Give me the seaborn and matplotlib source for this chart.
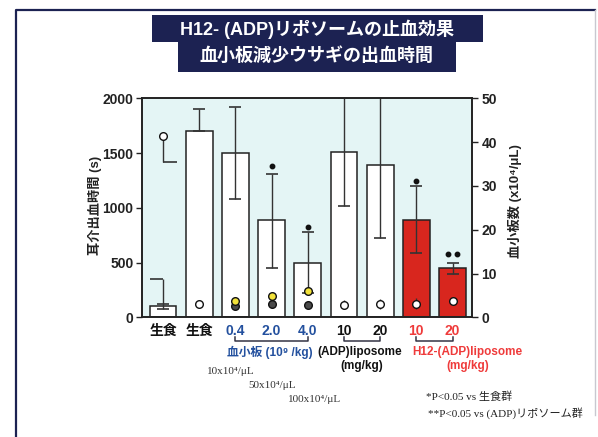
import numpy as np
import pandas as pd
import matplotlib.pyplot as plt
import seaborn as sns
from matplotlib.patches import Rectangle
from matplotlib.lines import Line2D
import matplotlib.transforms as mtransforms

# =========================
# Data
# =========================
GROUPS = ["saline_a", "saline_b", "plt_0.4", "plt_2.0", "plt_4.0",
          "adp_10", "adp_20", "h12_10", "h12_20"]
TICK_LABELS = ["生食", "生食", "0.4", "2.0", "4.0", "10", "20", "10", "20"]

# bleeding time (s), left axis
BLEED_TIME = [100, 1700, 1500, 890, 500, 1510, 1390, 890, 450]
TIME_ERR_LO = [20, 0, 420, 440, 280, 490, 670, 300, 50]
TIME_ERR_HI = [20, 200, 420, 420, 280, 490, 670, 310, 50]
SALINE_A_UPPER = 350          # long one-sided line on the first saline bar

# significance marks (s) and how many dots
SIG_TIME = [np.nan, np.nan, np.nan, 1381, 827, np.nan, np.nan, 1247, 578]
SIG_COUNT = [0, 0, 0, 1, 1, 0, 0, 1, 2]

# platelet count (x10^4/uL), right axis
COUNT_WHITE = [41.5, 3.0, np.nan, np.nan, np.nan, 2.9, 3.0, 3.1, 3.7]
COUNT_WHITE_ERR = [0, 0, 0, 0, 0, 1.1, 1.1, 1.2, 0]
COUNT_WHITE_DOWN = 6.0        # one-sided error of the first saline circle
COUNT_YELLOW = [np.nan, np.nan, 3.8, 4.9, 6.0, np.nan, np.nan, np.nan, np.nan]
COUNT_DARK = [np.nan, np.nan, 2.6, 3.0, 2.8, np.nan, np.nan, np.nan, np.nan]

BAR_COLORS = ["white"] * 7 + ["#d8261e"] * 2
LABEL_COLORS = ["#111111", "#111111", "#23509e", "#23509e", "#23509e",
                "#111111", "#111111", "#ef3b3b", "#ef3b3b"]

W, H = 598, 437
BLUE = "#23509e"
RED = "#ef3b3b"
NAVY = "#1c2252"
INK = "#222222"


def fx(px):
    return px / W


def fy(py):
    return 1 - py / H


plt.rcParams["font.family"] = ["Liberation Sans", "Noto Sans CJK JP", "DejaVu Sans"]
plt.rcParams["axes.unicode_minus"] = False

fig = plt.figure(figsize=(W / 100, H / 100), dpi=100)
fig.patch.set_facecolor("white")

# slide frame
fig.add_artist(Line2D([fx(16), fx(16), fx(595)], [0, fy(10), fy(10)],
                      transform=fig.transFigure, color=NAVY, lw=1.6))
fig.add_artist(Line2D([fx(595), fx(595)], [0.05, fy(10)],
                      transform=fig.transFigure, color="#c8c8d0", lw=1.0))

# title boxes
fig.add_artist(Rectangle((fx(151.7), fy(41.7)), fx(482.7) - fx(151.7), fy(15) - fy(41.7),
                         transform=fig.transFigure, facecolor=NAVY, edgecolor="none"))
fig.add_artist(Rectangle((fx(178), fy(71.7)), fx(456) - fx(178), fy(41.5) - fy(71.7),
                         transform=fig.transFigure, facecolor=NAVY, edgecolor="none"))
fig.text(fx(317), fy(29), "H12- (ADP)リポソームの止血効果", color="white",
         fontsize=13, fontweight="bold", ha="center", va="center")
fig.text(fx(316), fy(56.5), "血小板減少ウサギの出血時間", color="white",
         fontsize=13, fontweight="bold", ha="center", va="center")

# main axes
ax = fig.add_axes([fx(141.7), fy(317.3), fx(471.7) - fx(141.7), fy(98.3) - fy(317.3)])
ax.set_facecolor("#e4f5f5")

df = pd.DataFrame({"group": GROUPS, "time": BLEED_TIME})
sns.barplot(data=df, x="group", y="time", hue="group", order=GROUPS,
            palette=dict(zip(GROUPS, BAR_COLORS)), width=0.74, saturation=1,
            edgecolor=INK, linewidth=1.1, errorbar=None, legend=False, ax=ax)

xs = np.arange(len(GROUPS))
lo = np.array(TIME_ERR_LO, dtype=float)
hi = np.array(TIME_ERR_HI, dtype=float)
ax.errorbar(xs, BLEED_TIME, yerr=[lo, hi], fmt="none",
            ecolor="#333333", elinewidth=1.0, capsize=4.5, capthick=1.2, zorder=3)
# first saline bar: long line with a half cap
ax.vlines(xs[0], BLEED_TIME[0] + hi[0], SALINE_A_UPPER, color="#333333", lw=1.0, zorder=3)
ax.hlines(SALINE_A_UPPER, xs[0] - 0.36, xs[0], color="#333333", lw=1.2, zorder=3)

# significance dots
for x, y, n in zip(xs, SIG_TIME, SIG_COUNT):
    if n == 0:
        continue
    offs = [0.0] if n == 1 else [-0.13, 0.13]
    for o in offs:
        ax.plot(x + o, y, "o", ms=3.2, color="#111111", zorder=4)

ax.set_xlim(-0.59, 8.53)
ax.set_ylim(0, 2000)
ax.set_yticks([0, 500, 1000, 1500, 2000])
ax.set_xticks(xs)
ax.set_xticklabels(TICK_LABELS, fontsize=10, fontweight="bold")
for t, c in zip(ax.get_xticklabels(), LABEL_COLORS):
    t.set_color(c)
ax.set_xlabel("")
ax.set_ylabel("")
ax.tick_params(axis="x", length=0, pad=5)
ax.tick_params(axis="y", direction="out", length=4, width=1.0, labelsize=10, pad=2,
               colors=INK)
for t in ax.get_yticklabels():
    t.set_fontweight("bold")
for s in ax.spines.values():
    s.set_color(INK)
    s.set_linewidth(1.2)

# platelet counts on the right axis
ax2 = ax.twinx()
ax2.set_ylim(0, 50)
ax2.set_yticks(range(0, 51, 10))
ax2.tick_params(axis="y", direction="out", length=4, width=1.0, labelsize=10, pad=3,
                colors=INK)
for t in ax2.get_yticklabels():
    t.set_fontweight("bold")
for s in ax2.spines.values():
    s.set_color(INK)
    s.set_linewidth(1.2)

cw = np.array(COUNT_WHITE)
cwe = np.array(COUNT_WHITE_ERR)
ax2.errorbar(xs, cw, yerr=cwe, fmt="none", ecolor="#333333", elinewidth=1.0,
             capsize=0, zorder=3)
ax2.vlines(xs[0], cw[0] - COUNT_WHITE_DOWN, cw[0], color="#333333", lw=1.0, zorder=3)
ax2.hlines(cw[0] - COUNT_WHITE_DOWN, xs[0], xs[0] + 0.38, color="#333333", lw=1.2, zorder=3)

ax2.plot(xs, COUNT_DARK, "o", ls="none", ms=5.5, mfc="#4a4a4a", mec="#111111",
         mew=1.0, zorder=4)
ax2.plot(xs, COUNT_YELLOW, "o", ls="none", ms=5.5, mfc="#f2e23a", mec="#111111",
         mew=1.0, zorder=5)
ax2.plot(xs, cw, "o", ls="none", ms=5.5, mfc="white", mec="#111111",
         mew=1.0, zorder=5)

# axis titles
fig.text(fx(95), fy(205), "耳介出血時間 (s)", rotation=90, fontsize=9.5,
         fontweight="bold", ha="center", va="center", color=INK)
fig.text(fx(515), fy(201), "血小板数 (x10⁴/μL)", rotation=90, fontsize=9.5,
         fontweight="bold", ha="center", va="center", color=INK)

# group brackets below the tick labels
trans = mtransforms.blended_transform_factory(ax.transData, ax.transAxes)
for (a, b) in [(2, 4), (5, 6), (7, 8)]:
    ax.plot([a, a, b, b], [-0.088, -0.108, -0.108, -0.088], color="#333344",
            lw=1.1, transform=trans, clip_on=False)

fig.text(fx(270), fy(352), "血小板 (10⁹ /kg)", color=BLUE, fontsize=8.5,
         fontweight="bold", ha="center", va="center")
fig.text(fx(360), fy(352), "(ADP)liposome", color="#111111", fontsize=8.5,
         fontweight="bold", ha="center", va="center")
fig.text(fx(362), fy(365.5), "(mg/kg)", color="#111111", fontsize=8.5,
         fontweight="bold", ha="center", va="center")
fig.text(fx(467), fy(352), "H12-(ADP)liposome", color=RED, fontsize=8.5,
         fontweight="bold", ha="center", va="center")
fig.text(fx(468), fy(365.5), "(mg/kg)", color=RED, fontsize=8.5,
         fontweight="bold", ha="center", va="center")

serif = ["Liberation Serif", "Noto Sans CJK JP", "DejaVu Serif"]
for x0, y0, s in [(206.7, 371, "10x10⁴/μL"), (248, 386, "50x10⁴/μL"),
                  (288, 400, "100x10⁴/μL")]:
    fig.text(fx(x0), fy(y0), s, family=serif, fontsize=8, color="#333333",
             ha="left", va="center")

fig.text(fx(426), fy(397), "*P<0.05 vs 生食群", family=serif, fontsize=8,
         color="#222222", ha="left", va="center")
fig.text(fx(428), fy(413), "**P<0.05 vs (ADP)リポソーム群", family=serif, fontsize=8,
         color="#222222", ha="left", va="center")

fig.savefig("out.png", dpi=100)
plt.close(fig)
